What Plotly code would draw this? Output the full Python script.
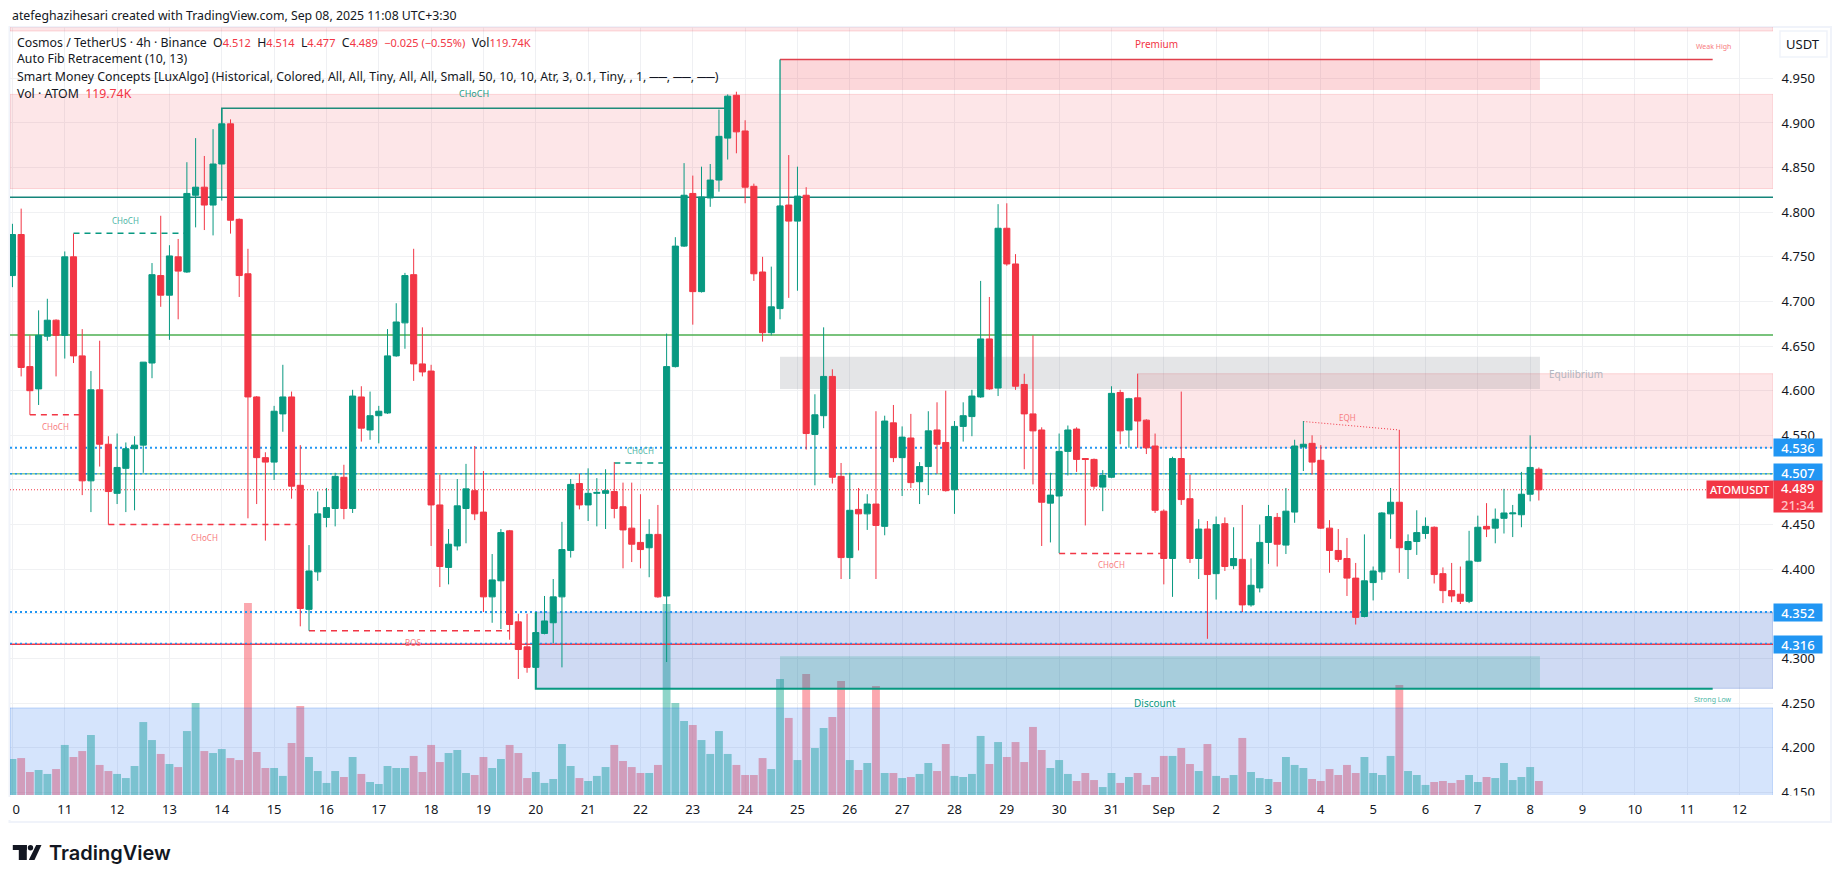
"""
plot.py - ATOMUSDT 4h TradingView snapshot, rebuilt with plotly
"""

import pandas as pd
import plotly.graph_objects as go

# ---------------------------------------------------------------------------
# DATA
# ---------------------------------------------------------------------------
open_ = [
    4.729, 4.775, 4.627, 4.602, 4.661, 4.679, 4.662, 4.750, 4.639, 4.499,
    4.601, 4.540, 4.485, 4.513, 4.535, 4.539, 4.631, 4.729, 4.707, 4.750,
    4.733, 4.819, 4.828, 4.808, 4.854, 4.899, 4.792, 4.731, 4.593, 4.525,
    4.520, 4.574, 4.593, 4.494, 4.355, 4.397, 4.458, 4.468, 4.503, 4.468,
    4.593, 4.556, 4.572, 4.575, 4.639, 4.676, 4.730, 4.630, 4.622, 4.472,
    4.402, 4.426, 4.468, 4.488, 4.464, 4.369, 4.387, 4.443, 4.341, 4.313,
    4.290, 4.328, 4.340, 4.369, 4.421, 4.496, 4.472, 4.485, 4.485, 4.487,
    4.470, 4.446, 4.430, 4.424, 4.439, 4.370, 4.627, 4.762, 4.821, 4.711,
    4.816, 4.836, 4.883, 4.931, 4.891, 4.829, 4.733, 4.665, 4.692, 4.808,
    4.790, 4.819, 4.551, 4.572, 4.616, 4.504, 4.413, 4.467, 4.462, 4.473,
    4.448, 4.564, 4.525, 4.547, 4.498, 4.515, 4.556, 4.542, 4.489, 4.560,
    4.571, 4.593, 4.658, 4.603, 4.782, 4.742, 4.607, 4.574, 4.556, 4.474,
    4.482, 4.532, 4.557, 4.524, 4.523, 4.492, 4.503, 4.598, 4.556, 4.592,
    4.567, 4.538, 4.465, 4.412, 4.524, 4.479, 4.412, 4.445, 4.395, 4.451,
    4.404, 4.411, 4.360, 4.379, 4.430, 4.458, 4.427, 4.464, 4.537, 4.541,
    4.522, 4.446, 4.421, 4.412, 4.390, 4.347, 4.385, 4.397, 4.462, 4.475,
    4.422, 4.431, 4.440, 4.447, 4.395, 4.376, 4.372, 4.364, 4.409, 4.448,
    4.446, 4.457, 4.462, 4.461, 4.484, 4.512,
]
high = [
    4.787, 4.804, 4.662, 4.690, 4.703, 4.680, 4.756, 4.776, 4.669, 4.622,
    4.656, 4.549, 4.552, 4.542, 4.549, 4.632, 4.743, 4.796, 4.763, 4.770,
    4.856, 4.883, 4.863, 4.893, 4.916, 4.904, 4.793, 4.759, 4.594, 4.531,
    4.583, 4.629, 4.599, 4.539, 4.427, 4.487, 4.491, 4.508, 4.517, 4.601,
    4.605, 4.599, 4.583, 4.669, 4.698, 4.732, 4.759, 4.671, 4.629, 4.506,
    4.445, 4.501, 4.518, 4.538, 4.510, 4.417, 4.445, 4.444, 4.350, 4.350,
    4.352, 4.370, 4.389, 4.453, 4.501, 4.507, 4.513, 4.502, 4.512, 4.520,
    4.497, 4.497, 4.484, 4.456, 4.472, 4.664, 4.772, 4.855, 4.841, 4.851,
    4.854, 4.915, 4.932, 4.935, 4.903, 4.832, 4.750, 4.739, 4.808, 4.864,
    4.851, 4.828, 4.596, 4.671, 4.624, 4.519, 4.508, 4.491, 4.484, 4.577,
    4.572, 4.584, 4.560, 4.574, 4.520, 4.577, 4.587, 4.600, 4.566, 4.587,
    4.601, 4.723, 4.705, 4.809, 4.810, 4.753, 4.619, 4.662, 4.559, 4.508,
    4.552, 4.561, 4.559, 4.524, 4.524, 4.511, 4.605, 4.601, 4.592, 4.619,
    4.568, 4.552, 4.467, 4.526, 4.599, 4.506, 4.456, 4.454, 4.459, 4.458,
    4.447, 4.472, 4.412, 4.450, 4.472, 4.463, 4.491, 4.545, 4.566, 4.550,
    4.539, 4.455, 4.445, 4.435, 4.407, 4.439, 4.403, 4.464, 4.491, 4.556,
    4.439, 4.466, 4.458, 4.448, 4.402, 4.407, 4.403, 4.443, 4.460, 4.474,
    4.468, 4.490, 4.472, 4.509, 4.550, 4.514,
]
low = [
    4.716, 4.616, 4.573, 4.584, 4.656, 4.616, 4.636, 4.631, 4.483, 4.464,
    4.515, 4.450, 4.473, 4.464, 4.466, 4.508, 4.614, 4.694, 4.657, 4.680,
    4.732, 4.783, 4.780, 4.774, 4.813, 4.776, 4.705, 4.457, 4.473, 4.432,
    4.500, 4.554, 4.479, 4.336, 4.331, 4.387, 4.447, 4.448, 4.456, 4.463,
    4.543, 4.545, 4.541, 4.574, 4.638, 4.647, 4.611, 4.616, 4.426, 4.380,
    4.383, 4.421, 4.429, 4.455, 4.352, 4.340, 4.333, 4.321, 4.277, 4.284,
    4.290, 4.327, 4.317, 4.290, 4.413, 4.467, 4.454, 4.448, 4.445, 4.457,
    4.401, 4.408, 4.401, 4.391, 4.368, 4.296, 4.626, 4.761, 4.674, 4.710,
    4.806, 4.823, 4.859, 4.866, 4.810, 4.723, 4.655, 4.662, 4.680, 4.704,
    4.712, 4.534, 4.494, 4.558, 4.496, 4.389, 4.389, 4.421, 4.444, 4.389,
    4.438, 4.520, 4.482, 4.491, 4.473, 4.483, 4.507, 4.487, 4.462, 4.543,
    4.549, 4.592, 4.601, 4.594, 4.740, 4.601, 4.512, 4.495, 4.426, 4.430,
    4.418, 4.505, 4.509, 4.449, 4.490, 4.465, 4.502, 4.540, 4.536, 4.536,
    4.529, 4.463, 4.383, 4.369, 4.472, 4.407, 4.389, 4.322, 4.366, 4.398,
    4.400, 4.352, 4.358, 4.374, 4.406, 4.403, 4.417, 4.452, 4.510, 4.506,
    4.445, 4.396, 4.408, 4.370, 4.338, 4.346, 4.365, 4.388, 4.434, 4.396,
    4.389, 4.416, 4.434, 4.384, 4.362, 4.363, 4.361, 4.362, 4.408, 4.436,
    4.429, 4.440, 4.436, 4.447, 4.476, 4.477,
]
close = [
    4.775, 4.626, 4.600, 4.662, 4.679, 4.662, 4.750, 4.639, 4.499, 4.601,
    4.540, 4.487, 4.514, 4.535, 4.539, 4.632, 4.730, 4.707, 4.751, 4.734,
    4.821, 4.828, 4.808, 4.854, 4.899, 4.791, 4.729, 4.593, 4.525, 4.520,
    4.577, 4.593, 4.493, 4.356, 4.398, 4.462, 4.469, 4.504, 4.468, 4.594,
    4.558, 4.572, 4.577, 4.639, 4.677, 4.729, 4.630, 4.621, 4.472, 4.403,
    4.428, 4.471, 4.490, 4.462, 4.369, 4.388, 4.441, 4.338, 4.310, 4.290,
    4.329, 4.342, 4.369, 4.422, 4.495, 4.472, 4.485, 4.486, 4.488, 4.468,
    4.444, 4.428, 4.422, 4.439, 4.369, 4.627, 4.762, 4.819, 4.711, 4.817,
    4.836, 4.885, 4.930, 4.890, 4.828, 4.731, 4.665, 4.694, 4.807, 4.790,
    4.818, 4.552, 4.573, 4.616, 4.503, 4.413, 4.466, 4.462, 4.473, 4.449,
    4.566, 4.525, 4.548, 4.497, 4.515, 4.555, 4.540, 4.488, 4.560, 4.572,
    4.594, 4.658, 4.602, 4.782, 4.742, 4.605, 4.574, 4.555, 4.475, 4.483,
    4.532, 4.556, 4.523, 4.523, 4.493, 4.505, 4.597, 4.555, 4.591, 4.566,
    4.536, 4.466, 4.412, 4.524, 4.478, 4.412, 4.445, 4.394, 4.450, 4.403,
    4.412, 4.360, 4.382, 4.430, 4.459, 4.428, 4.465, 4.538, 4.540, 4.520,
    4.446, 4.421, 4.411, 4.390, 4.346, 4.387, 4.398, 4.463, 4.475, 4.424,
    4.431, 4.441, 4.448, 4.394, 4.376, 4.370, 4.364, 4.409, 4.447, 4.445,
    4.456, 4.463, 4.463, 4.484, 4.514, 4.489,
]
# volume in thousands of ATOM
volume = [
    308, 316, 197, 214, 180, 222, 428, 325, 376, 513,
    257, 205, 180, 145, 248, 624, 470, 351, 265, 239,
    547, 787, 376, 359, 393, 316, 299, 1642, 368, 231,
    231, 163, 445, 761, 325, 205, 103, 205, 154, 325,
    180, 111, 94, 248, 231, 231, 334, 197, 428, 282,
    359, 385, 188, 171, 325, 231, 308, 428, 359, 145,
    197, 103, 137, 436, 248, 145, 120, 163, 239, 428,
    291, 239, 188, 188, 257, 1634, 787, 633, 599, 470,
    351, 547, 351, 257, 171, 171, 316, 222, 992, 659,
    299, 1035, 402, 573, 667, 975, 299, 214, 274, 932,
    188, 188, 145, 154, 180, 274, 205, 436, 163, 154,
    180, 505, 265, 453, 325, 453, 282, 582, 385, 231,
    299, 180, 120, 188, 128, 68, 188, 103, 154, 188,
    86, 154, 334, 334, 402, 265, 205, 436, 163, 145,
    171, 488, 197, 145, 137, 111, 325, 257, 231, 137,
    120, 222, 171, 257, 188, 325, 188, 171, 334, 941,
    205, 171, 86, 111, 120, 103, 128, 171, 111, 154,
    145, 274, 128, 154, 239, 120,
]

tick_dates = [
    "2025-08-10", "2025-08-11", "2025-08-12", "2025-08-13", "2025-08-14",
    "2025-08-15", "2025-08-16", "2025-08-17", "2025-08-18", "2025-08-19",
    "2025-08-20", "2025-08-21", "2025-08-22", "2025-08-23", "2025-08-24",
    "2025-08-25", "2025-08-26", "2025-08-27", "2025-08-28", "2025-08-29",
    "2025-08-30", "2025-08-31", "2025-09-01", "2025-09-02", "2025-09-03",
    "2025-09-04", "2025-09-05", "2025-09-06", "2025-09-07", "2025-09-08",
    "2025-09-09", "2025-09-10", "2025-09-11", "2025-09-12",
]
tick_labels = [
    "10", "11", "12", "13", "14", "15", "16", "17", "18", "19", "20", "21",
    "22", "23", "24", "25", "26", "27", "28", "29", "30", "31", "Sep", "2",
    "3", "4", "5", "6", "7", "8", "9", "10", "11", "12",
]
price_ticks = [4.15, 4.20, 4.25, 4.30, 4.35, 4.40, 4.45, 4.50, 4.55, 4.60,
               4.65, 4.70, 4.75, 4.80, 4.85, 4.90, 4.95]
# 4.350 and 4.500 sit behind the price chips
price_labels = ["4.150", "4.200", "4.250", "4.300", "", "4.400", "4.450", "", "4.550",
                "4.600", "4.650", "4.700", "4.750", "4.800", "4.850", "4.900", "4.950"]

# ---------------------------------------------------------------------------
# STYLE / LAYOUT CONSTANTS
# ---------------------------------------------------------------------------
WIDTH, HEIGHT = 1835, 883
PLOT_L, PLOT_R, PLOT_T, PLOT_B = 9.5, 1773, 27, 795
PRICE_RANGE = [4.147, 5.0075]
VOLUME_RANGE = [0, 6569]
X_START, X_END = "2025-08-09 22:53", "2025-09-12 15:22"
LINE_END = "2025-09-11 11:42"
ZONE_END = "2025-09-08 04:30"

GREEN, RED, BLUE = "#089981", "#f23645", "#2196f3"
TEXT = "#131722"
FONT = "Noto Sans"

times = pd.date_range("2025-08-10", periods=len(close), freq="4h")


def t(i):
    return times[i].strftime("%Y-%m-%d %H:%M")


def px(x):
    return (x - PLOT_L) / (PLOT_R - PLOT_L)


def py(y):
    return (PLOT_B - y) / (PLOT_B - PLOT_T)


fig = go.Figure()

# volume at the very bottom of the stack
fig.add_trace(
    go.Bar(
        x=times,
        y=volume,
        width=[4 * 3600 * 1000 * 0.9] * len(volume),
        marker_color=[
            "rgba(34,171,148,0.5)" if c >= o else "rgba(247,82,95,0.5)"
            for o, c in zip(open_, close)
        ],
        marker_line_width=0,
        yaxis="y",
        hoverinfo="skip",
        showlegend=False,
    )
)


# zones are filled traces so they sit over the volume and under the candles
def add_zone(x0, x1, y0, y1, fill, border=None):
    fig.add_trace(
        go.Scatter(
            x=[x0, x1, x1, x0, x0],
            y=[y0, y0, y1, y1, y0],
            mode="lines",
            fill="toself",
            fillcolor=fill,
            line=dict(color=border or "rgba(0,0,0,0)", width=1),
            yaxis="y2",
            hoverinfo="skip",
            showlegend=False,
        )
    )


PINK = "rgba(242,54,69,0.125)"
PINK_EDGE = "rgba(242,54,69,0.18)"
add_zone(X_START, X_END, 5.003, 5.02, PINK, PINK_EDGE)
add_zone(X_START, X_END, 4.8265, 4.932, PINK, PINK_EDGE)
add_zone(t(129), X_END, 4.536, 4.619, PINK, PINK_EDGE)
add_zone(t(60), X_END, 4.2665, 4.352, "rgba(30,80,200,0.21)", "rgba(30,80,200,0.25)")
add_zone(X_START, X_END, 4.14, 4.2445, "rgba(33,110,240,0.19)", "rgba(33,110,240,0.25)")
add_zone(t(88), ZONE_END, 4.937, 4.971, "rgba(242,54,69,0.2)")
add_zone(t(88), ZONE_END, 4.602, 4.638, "rgba(120,123,134,0.2)")
add_zone(t(88), ZONE_END, 4.2665, 4.3026, "rgba(8,153,129,0.2)")


def add_line(xs, ys, color, width=1.5, dash="solid"):
    fig.add_trace(
        go.Scatter(
            x=xs,
            y=ys,
            mode="lines",
            line=dict(color=color, width=width, dash=dash),
            yaxis="y2",
            hoverinfo="skip",
            showlegend=False,
        )
    )


# full width levels
add_line([X_START, X_END], [4.8168, 4.8168], "#14857a")
add_line([X_START, X_END], [4.6624, 4.6624], "#4caf50")
add_line([X_START, X_END], [4.507, 4.507], "rgba(76,175,80,0.65)")
add_line([X_START, X_END], [4.3158, 4.3158], RED)
add_line([X_START, X_END], [4.536, 4.536], BLUE, 2, "2px,3px")
add_line([X_START, X_END], [4.507, 4.507], BLUE, 1.5, "2px,3px")
add_line([X_START, X_END], [4.352, 4.352], BLUE, 2, "2px,3px")
add_line([X_START, X_END], [4.3168, 4.3168], BLUE, 1.5, "2px,3px")
add_line([X_START, X_END], [4.489, 4.489], RED, 1, "1px,2px")

# strong / weak swing lines
add_line([t(88), LINE_END], [4.971, 4.971], "#e0404d")
add_line([t(88), t(88)], [4.807, 4.971], GREEN, 1.3)
add_line([t(60), t(60), LINE_END], [4.352, 4.266, 4.266], GREEN, 2)

# structure breaks
add_line([t(24), t(24), t(82)], [4.899, 4.9165, 4.9165], "#1e8c7a")
add_line([t(7), t(20)], [4.7765, 4.7765], GREEN, 1.5, "6px,5px")
add_line([t(2), t(8)], [4.573, 4.573], RED, 1.5, "6px,5px")
add_line([t(11), t(33)], [4.45, 4.45], RED, 1.5, "6px,5px")
add_line([t(34), t(57)], [4.331, 4.331], RED, 1.5, "6px,5px")
add_line([t(69), t(75)], [4.519, 4.519], GREEN, 1.5, "6px,5px")
add_line([t(120), t(132)], [4.4175, 4.4175], RED, 1.5, "6px,5px")
add_line([t(148), t(159)], [4.5655, 4.556], RED, 1, "1px,2px")

fig.add_trace(
    go.Candlestick(
        x=times,
        open=open_,
        high=high,
        low=low,
        close=close,
        increasing=dict(line=dict(color=GREEN, width=1), fillcolor=GREEN),
        decreasing=dict(line=dict(color=RED, width=1), fillcolor=RED),
        whiskerwidth=0,
        yaxis="y3",
        hoverinfo="skip",
        showlegend=False,
    )
)


def label(text, x, y, color=TEXT, size=12.3, anchor="left", **kw):
    return dict(
        text=text,
        x=px(x),
        y=py(y),
        xref="paper",
        yref="paper",
        xanchor=anchor,
        yanchor="middle",
        showarrow=False,
        font=dict(family=FONT, color=color, size=size),
        **kw,
    )


def tag(text, x0, x1, y0, y1, bg, size=13):
    item = label(
        text,
        (x0 + x1) / 2,
        (y0 + y1) / 2,
        color="white",
        size=size,
        anchor="center",
        width=x1 - x0,
        height=y1 - y0,
        bgcolor=bg,
        borderpad=0,
    )
    item["font"]["weight"] = 500
    return item


def red_val(s, size=None):
    extra = f";font-size:{size}px" if size else ""
    return f'<span style="color:{RED}{extra}">{s}</span>'


annotations = [
    label("atefeghazihesari created with TradingView.com, Sep 08, 2025 11:08 UTC+3:30", 9, 15),
    label(
        "Cosmos / TetherUS · 4h · Binance  O" + red_val("4.512", 11) + "  H" + red_val("4.514", 11)
        + "  L" + red_val("4.477", 11) + "  C" + red_val("4.489", 11) + "  "
        + red_val("−0.025 (−0.55%)", 11) + "  Vol" + red_val("119.74K", 11),
        15, 42,
    ),
    label("Auto Fib Retracement (10, 13)", 15, 59),
    label(
        "Smart Money Concepts [LuxAlgo] (Historical, Colored, All, All, Tiny, All, All, "
        "Small, 50, 10, 10, Atr, 3, 0.1, Tiny, , 1, ──, ──, ──)",
        15, 76,
    ),
    label("Vol · ATOM  " + red_val("119.74K"), 15, 93),
    # chart labels
    label("CHoCH", 474, 93, "#1e9c87", 9, "center"),
    label("CHoCH", 125, 220, "#4db6a6", 8, "center"),
    label("CHoCH", 55, 427, "#f77c80", 8, "center"),
    label("CHoCH", 204, 537, "#f77c80", 8, "center"),
    label("BOS", 413, 642, "#f77c80", 8, "center"),
    label("CHoCH", 640, 451, "#4db6a6", 8, "center"),
    label("CHoCH", 1111, 564, "#f77c80", 8, "center"),
    label("EQH", 1347, 418, "#f77c80", 8, "center"),
    label("Premium", 1156, 44, RED, 10, "center"),
    label("Weak High", 1713, 47, "#f77c80", 7, "center"),
    label("Equilibrium", 1576, 374, "#b2b5be", 10, "center"),
    label("Discount", 1155, 703, GREEN, 10, "center"),
    label("Strong Low", 1713, 699, "#4db6a6", 7, "center"),
    # right hand scale chips
    label("USDT", 1803, 44, TEXT, 13, "center"),
    tag("4.536", 1774, 1822, 439, 456, BLUE),
    tag("4.507", 1774, 1822, 464, 481, BLUE),
    tag("4.352", 1774, 1822, 604, 621, BLUE),
    tag("4.316", 1774, 1822, 636, 653, BLUE),
    tag("ATOMUSDT", 1707, 1773, 481, 498, RED, 11),
    tag('4.489<br><span style="color:#ffc4c8">21:34</span>', 1774, 1822, 481, 512, RED),
    # footer
    label("TradingView", 47, 853, "#131722", 20),
]
annotations[-1]["font"]["family"] = "Inter"
annotations[-1]["font"]["weight"] = 600


def paper_rect(x0, y0, x1, y1, **kw):
    return dict(
        type="rect", xref="paper", yref="paper",
        x0=px(x0), x1=px(x1), y0=py(y0), y1=py(y1), **kw,
    )


logo_path = "M {} {} L {} {} L {} {} L {} {} Z".format(
    px(35.7), py(845), px(41), py(845), px(34), py(860), px(28.3), py(860)
)

shapes = [
    # frame around the whole chart
    paper_rect(9, 27, 1831, 822, line=dict(color="#f0f3fa", width=2), layer="below"),
    # USDT button
    paper_rect(1780, 31, 1827, 57, line=dict(color="#f0f3fa", width=1.5), fillcolor="white"),
    # the pane edges clip the first date label and the lowest price label
    paper_rect(0, 797, 11.5, 820, fillcolor="white", line_width=0),
    paper_rect(1774, 795.5, 1829, 806, fillcolor="white", line_width=0),
    # logo
    paper_rect(12.3, 845, 26.3, 850, fillcolor="#131722", line_width=0),
    paper_rect(18.3, 845, 26.3, 860, fillcolor="#131722", line_width=0),
    dict(
        type="circle", xref="paper", yref="paper", fillcolor="#131722", line_width=0,
        x0=px(27.3), x1=px(32.7), y0=py(850.4), y1=py(845),
    ),
    dict(type="path", xref="paper", yref="paper", path=logo_path, fillcolor="#131722", line_width=0),
]

axis_common = dict(range=PRICE_RANGE, fixedrange=True)

fig.update_layout(
    width=WIDTH,
    height=HEIGHT,
    margin=dict(l=PLOT_L, r=WIDTH - PLOT_R, t=PLOT_T, b=HEIGHT - PLOT_B, autoexpand=False),
    paper_bgcolor="white",
    plot_bgcolor="white",
    showlegend=False,
    boxgap=0.3,
    boxgroupgap=0,
    font=dict(family=FONT, color=TEXT, size=13),
    xaxis=dict(
        type="date",
        range=[X_START, X_END],
        tickmode="array",
        tickvals=tick_dates,
        ticktext=tick_labels,
        showgrid=True,
        gridcolor="#eff0f3",
        gridwidth=1,
        ticks="outside",
        ticklen=2,
        tickcolor="rgba(0,0,0,0)",
        tickfont=dict(family=FONT, size=13, color=TEXT),
        rangeslider=dict(visible=False),
        showline=False,
        zeroline=False,
        fixedrange=True,
    ),
    yaxis=dict(range=VOLUME_RANGE, visible=False, fixedrange=True),
    yaxis2=dict(
        overlaying="y",
        side="right",
        tickmode="array",
        tickvals=price_ticks,
        ticktext=price_labels,
        showgrid=True,
        gridcolor="#f0f1f3",
        ticks="outside",
        ticklen=5,
        tickcolor="rgba(0,0,0,0)",
        tickfont=dict(family=FONT, size=13, color=TEXT),
        zeroline=False,
        **axis_common,
    ),
    yaxis3=dict(overlaying="y", side="right", visible=False, **axis_common),
    annotations=annotations,
    shapes=shapes,
)

fig.write_html(
    "out.html",
    config={"displayModeBar": False},
    post_script="document.body.style.margin='0';",
)
